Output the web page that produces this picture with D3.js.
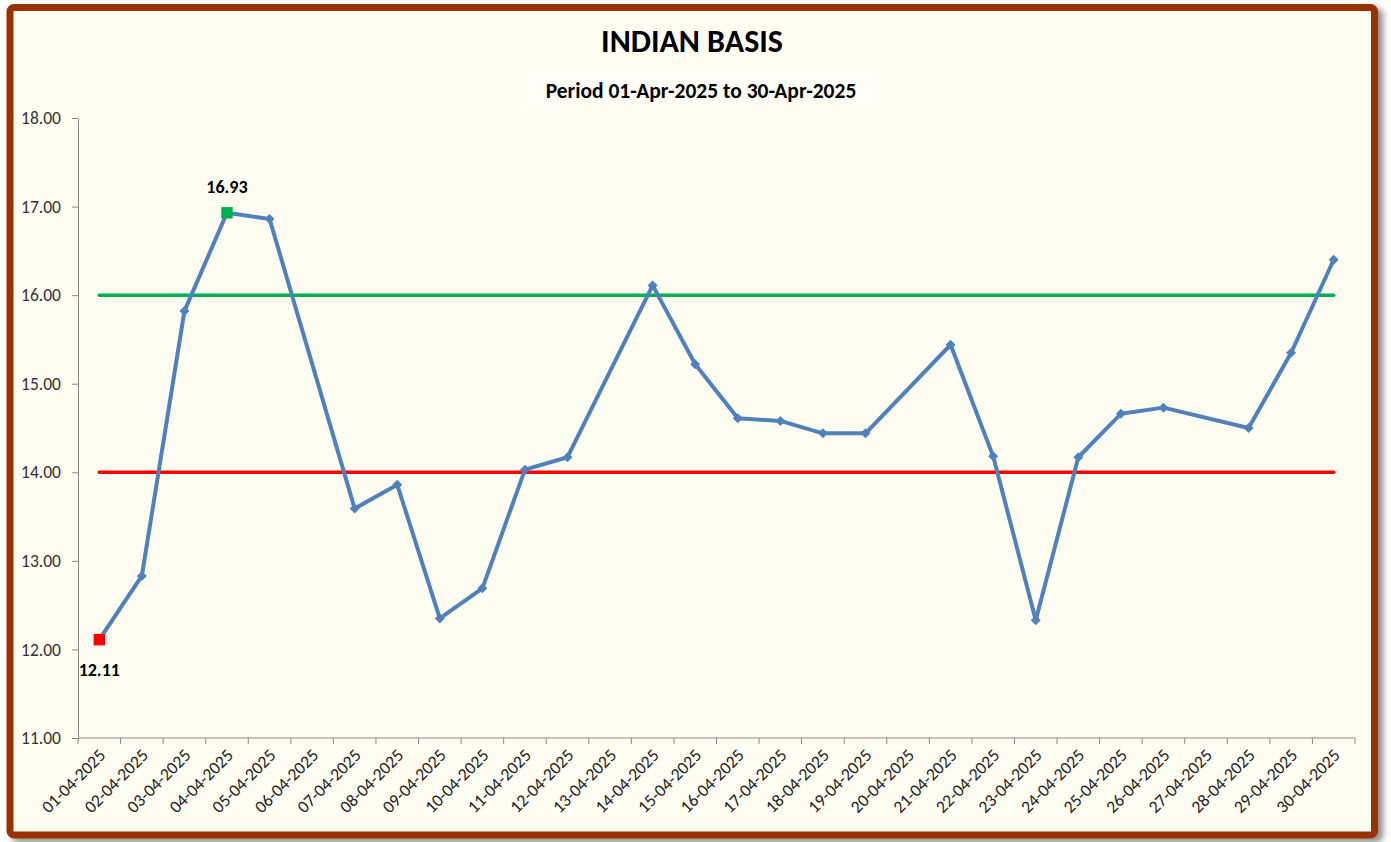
<!DOCTYPE html>
<html>
<head>
<meta charset="utf-8">
<script src="https://cdn.jsdelivr.net/npm/d3@7"></script>
<style>
  body { margin: 0; background: #fff; }
  svg { display: block; font-family: Carlito, Calibri, Lato, sans-serif; }
</style>
</head>
<body>
<svg id="scene" width="1391" height="842"></svg>
<script>
// chart data
const dates = ['01-04-2025','02-04-2025','03-04-2025','04-04-2025','05-04-2025','06-04-2025','07-04-2025',
  '08-04-2025','09-04-2025','10-04-2025','11-04-2025','12-04-2025','13-04-2025','14-04-2025','15-04-2025',
  '16-04-2025','17-04-2025','18-04-2025','19-04-2025','20-04-2025','21-04-2025','22-04-2025','23-04-2025',
  '24-04-2025','25-04-2025','26-04-2025','27-04-2025','28-04-2025','29-04-2025','30-04-2025'];
const basis = [12.11, 12.83, 15.82, 16.93, 16.86, null, 13.59,
  13.86, 12.35, 12.69, 14.03, 14.17, null, 16.11, 15.22,
  14.61, 14.58, 14.44, 14.44, null, 15.44, 14.18, 12.33,
  14.17, 14.66, 14.73, null, 14.50, 15.35, 16.40];
const upperLevel = 16;
const lowerLevel = 14;
const yTicks = [11, 12, 13, 14, 15, 16, 17, 18];
const title = 'INDIAN BASIS';
const subtitle = 'Period 01-Apr-2025 to 30-Apr-2025';

const palette = { blue: '#4F81BD', green: '#00B050', red: '#FF0000', frame: '#993300', bg: '#FFFDF1', axis: '#898989' };

const svg = d3.select('#scene');
const points = dates.map((d, i) => ({ date: d, value: basis[i] })).filter(d => d.value != null);

let scaleX = d3.scaleBand().domain(dates).range([78, 1355]);
let scaleY = d3.scaleLinear().domain([11, 18]).range([738, 118]);
let cx = (d) => scaleX(d) + scaleX.bandwidth() / 2;

// frame with shadow
let defs = svg.append('defs');
let f = defs.append('filter').attr('id', 'shadow').attr('x', '-5%').attr('y', '-5%').attr('width', '110%').attr('height', '110%');
f.append('feDropShadow').attr('dx', 5).attr('dy', 4).attr('stdDeviation', 3).attr('flood-color', '#000').attr('flood-opacity', 0.45);

svg.append('rect')
  .attr('x', 10).attr('y', 7.5).attr('width', 1364.5).attr('height', 827.5)
  .attr('rx', 4)
  .attr('fill', palette.bg)
  .attr('stroke', palette.frame)
  .attr('stroke-width', 7)
  .attr('filter', 'url(#shadow)');

// titles
svg.append('text').attr('x', 692).attr('y', 52).attr('text-anchor', 'middle')
  .attr('font-size', 32).attr('font-weight', 'bold').attr('fill', '#000').text(title);
svg.append('rect').attr('x', 523).attr('y', 72).attr('width', 355).attr('height', 36).attr('fill', '#FFFEF6');
svg.append('text').attr('x', 701).attr('y', 98).attr('text-anchor', 'middle')
  .attr('font-size', 21.5).attr('font-weight', 'bold').attr('fill', '#000').text(subtitle);

// axes
let yAxis = svg.append('g').attr('transform', 'translate(78,0)')
  .call(d3.axisLeft(scaleY).tickValues(yTicks).tickFormat(d3.format('.2f')).tickSize(6).tickSizeOuter(0));
yAxis.select('.domain').attr('stroke', palette.axis);
yAxis.selectAll('.tick line').attr('stroke', palette.axis);
yAxis.selectAll('.tick text').attr('font-size', 17.5).attr('fill', '#333').attr('font-family', 'Carlito, Calibri, Lato, sans-serif').attr('x', -17);

let xAxis = svg.append('g').attr('transform', 'translate(0,738)');
xAxis.append('line').attr('x1', 78).attr('x2', 1355).attr('stroke', palette.axis);
xAxis.selectAll('line.tk').data(dates.concat(['end'])).enter().append('line')
  .attr('class', 'tk')
  .attr('x1', (d, i) => i < dates.length ? scaleX(d) : scaleX.range()[1])
  .attr('x2', (d, i) => i < dates.length ? scaleX(d) : scaleX.range()[1])
  .attr('y1', 0).attr('y2', 6).attr('stroke', palette.axis);
xAxis.selectAll('text').data(dates).enter().append('text')
  .attr('transform', (d) => 'translate(' + (cx(d) + 3) + ',14) rotate(-45)')
  .attr('text-anchor', 'end').attr('dy', '0.35em')
  .attr('font-size', 17.5).attr('fill', '#222')
  .text((d) => d);

// reference levels
[[upperLevel, palette.green], [lowerLevel, palette.red]].forEach(([v, c]) => {
  svg.append('line')
    .attr('x1', cx(dates[0])).attr('x2', cx(dates[dates.length - 1]))
    .attr('y1', scaleY(v)).attr('y2', scaleY(v))
    .attr('stroke', c).attr('stroke-width', 3.5).attr('stroke-linecap', 'round');
});

// series
svg.append('path').datum(points)
  .attr('fill', 'none').attr('stroke', palette.blue).attr('stroke-width', 4).attr('stroke-linejoin', 'round')
  .attr('d', d3.line().x(d => cx(d.date)).y(d => scaleY(d.value)));

let maxV = d3.max(points, d => d.value);
let minV = d3.min(points, d => d.value);

svg.selectAll('path.mk').data(points.filter(d => d.value !== maxV && d.value !== minV)).enter().append('path')
  .attr('class', 'mk')
  .attr('transform', d => 'translate(' + cx(d.date) + ',' + scaleY(d.value) + ') rotate(45)')
  .attr('d', d3.symbol().type(d3.symbolSquare).size(50))
  .attr('fill', palette.blue);

let extremes = [
  { p: points.find(d => d.value === maxV), color: palette.green, dy: -20 },
  { p: points.find(d => d.value === minV), color: palette.red, dy: 36 }
];
extremes.forEach(e => {
  svg.append('path')
    .attr('transform', 'translate(' + cx(e.p.date) + ',' + scaleY(e.p.value) + ')')
    .attr('d', d3.symbol().type(d3.symbolSquare).size(130)())
    .attr('fill', e.color);
  svg.append('text')
    .attr('x', cx(e.p.date)).attr('y', scaleY(e.p.value) + e.dy)
    .attr('text-anchor', 'middle').attr('font-size', 18).attr('font-weight', 'bold').attr('fill', '#000')
    .text(d3.format('.2f')(e.p.value));
});
</script>
</body>
</html>
